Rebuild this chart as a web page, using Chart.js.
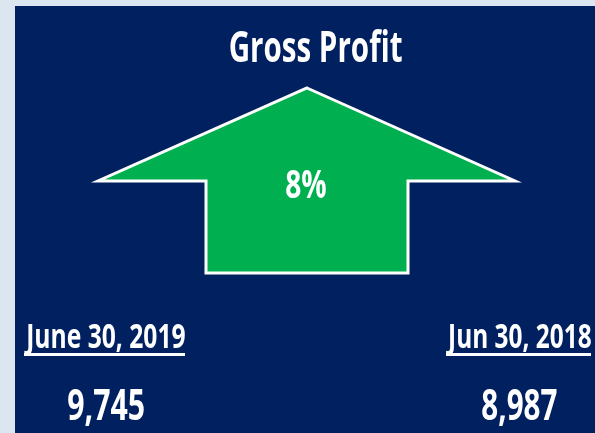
<!DOCTYPE html>
<html>
<head>
<meta charset="utf-8">
<script src="https://cdn.jsdelivr.net/npm/chart.js@4"></script>
<style>
  html, body { margin: 0; padding: 0; background: #DCE6F0; }
  #wrap { width: 595px; height: 433px; }
</style>
</head>
<body>
<div id="wrap"><canvas id="c" width="595" height="433"></canvas></div>
<script>
// ---- data ----
const title = "Gross Profit";
const periods = ["June 30, 2019", "Jun 30, 2018"];
const grossProfit = [9745, 8987];

const NAVY = "#002060", GREEN = "#00B050", PAGE = "#DCE6F0";
const FONT = '"Open Sans", "Liberation Sans", sans-serif';

function fitText(ctx, text, left, right, baseline, cap) {
  ctx.save();
  ctx.font = "bold 100px " + FONT;
  const capRatio = ctx.measureText("H").actualBoundingBoxAscent / 100;
  const size = cap / capRatio;
  ctx.font = "bold " + size + "px " + FONT;
  const m = ctx.measureText(text);
  const w = m.actualBoundingBoxRight + m.actualBoundingBoxLeft;
  const sx = (right - left) / w;
  ctx.translate(left, baseline);
  ctx.scale(sx, 1);
  ctx.fillStyle = "#FFFFFF";
  ctx.textBaseline = "alphabetic";
  ctx.textAlign = "left";
  ctx.fillText(text, m.actualBoundingBoxLeft, 0);
  ctx.restore();
}

const infographic = {
  id: "infographic",
  beforeDraw(chart) {
    const ctx = chart.ctx;
    const W = chart.width, H = chart.height;
    ctx.save();
    ctx.fillStyle = PAGE;
    ctx.fillRect(0, 0, W, H);
    ctx.fillStyle = NAVY;
    ctx.fillRect(15, 6, W - 15, H - 6);

    // arrow
    ctx.beginPath();
    ctx.moveTo(307, 88);
    ctx.lineTo(515, 181);
    ctx.lineTo(408, 181);
    ctx.lineTo(408, 273);
    ctx.lineTo(206, 273);
    ctx.lineTo(206, 181);
    ctx.lineTo(98, 181);
    ctx.closePath();
    ctx.fillStyle = GREEN;
    ctx.fill();
    ctx.lineWidth = 3;
    ctx.strokeStyle = "#FFFFFF";
    ctx.lineJoin = "miter";
    ctx.stroke();
    ctx.restore();

    // texts
    fitText(ctx, title, 230, 402, 62, 31);
    const pct = Math.round((grossProfit[0] - grossProfit[1]) / grossProfit[1] * 100);
    fitText(ctx, pct + "%", 286, 326, 198, 28);

    const fmt = v => v.toLocaleString("en-US");
    const dateBoxes = [[24, 185], [446, 591]];
    const valBoxes = [[68, 144], [482, 557]];
    periods.forEach((p, i) => {
      const [l, r] = dateBoxes[i];
      fitText(ctx, p, l, r, 348, 25);
      ctx.save();
      ctx.fillStyle = "#FFFFFF";
      ctx.fillRect(l, 353, r - l, 3);
      ctx.restore();
      const [vl, vr] = valBoxes[i];
      fitText(ctx, fmt(grossProfit[i]), vl, vr, 420, 31);
    });
  }
};

new Chart(document.getElementById("c"), {
  type: "bar",
  data: {
    labels: periods,
    datasets: [{ label: title, data: grossProfit, backgroundColor: "rgba(0,0,0,0)" }]
  },
  options: {
    responsive: false,
    animation: false,
    events: [],
    layout: { padding: 0 },
    plugins: { legend: { display: false }, tooltip: { enabled: false }, title: { display: false } },
    scales: { x: { display: false }, y: { display: false } }
  },
  plugins: [infographic]
});
</script>
</body>
</html>
